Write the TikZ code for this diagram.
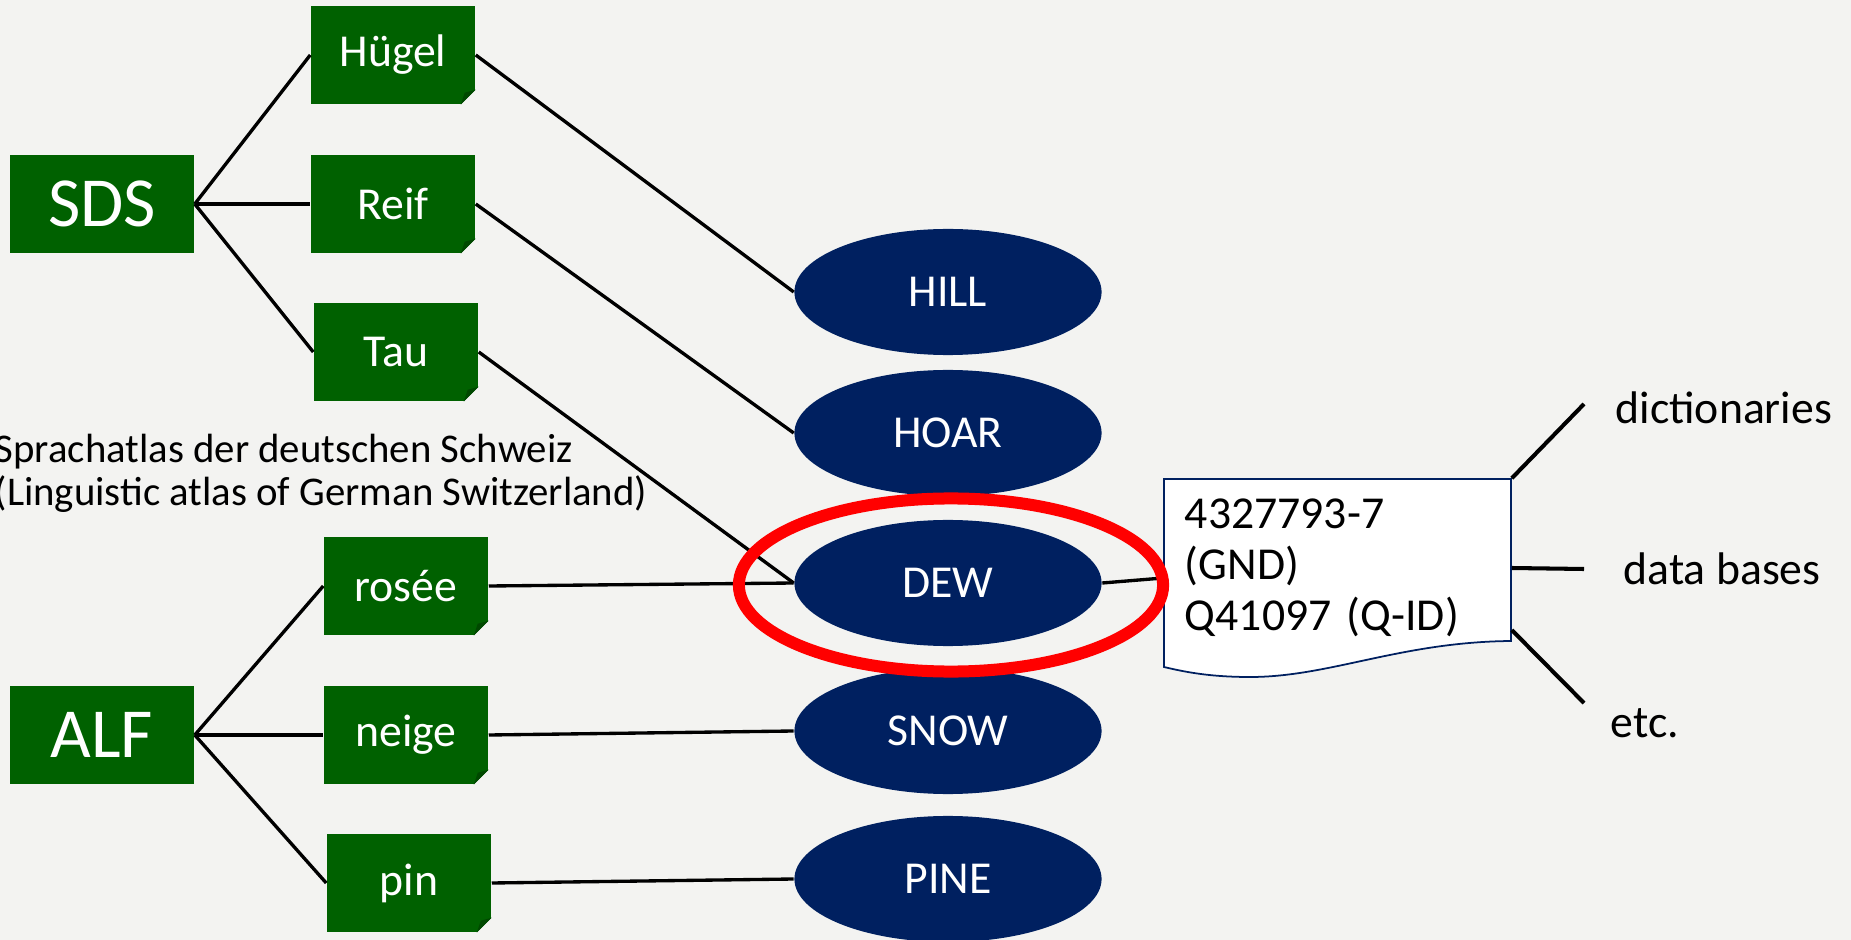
\documentclass[tikz,border=0pt]{standalone}
\usepackage{fontspec}
\setmainfont{Carlito}
\usetikzlibrary{shapes.geometric}
\definecolor{paper}{HTML}{F3F3F1}
\definecolor{atlasgreen}{HTML}{006100}
\definecolor{foldgreen}{HTML}{004800}
\definecolor{conceptblue}{HTML}{002060}

\begin{document}
\begin{tikzpicture}[x=0.01cm, y=-0.01cm,
    every node/.style={inner sep=0pt},
    atlas/.style={fill=atlasgreen, text=white, minimum width=1.84cm, minimum height=0.98cm, font=\fontsize{20}{24}\selectfont},
    lemma/.style={fill=atlasgreen, text=white, minimum width=1.64cm, minimum height=0.98cm, font=\fontsize{13}{15}\selectfont},
    concept/.style={ellipse, fill=conceptblue, text=white, minimum width=3.07cm, minimum height=1.26cm, font=\fontsize{13}{15}\selectfont},
    plain/.style={anchor=west, font=\fontsize{13}{15}\selectfont},
    link/.style={line width=0.95pt},
    reflink/.style={line width=1.15pt}]
      \useasboundingbox (0,0) rectangle (1851,940);
      \fill[paper] (0,0) rectangle (1851,940);
      \node[atlas] (sds) at (102,204) {SDS};
      \node[atlas] (alf) at (102,735) {ALF};
      \node[lemma] (huegel) at (393,55) {Hügel};
      \node[lemma] (reif) at (393,204) {Reif};
      \node[lemma] (tau) at (396,352) {Tau};
      \node[lemma] (rosee) at (406,586) {rosée};
      \node[lemma] (neige) at (406,735) {neige};
      \node[lemma] (pin) at (409,883) {pin};
      \foreach \n in {huegel,reif,tau,rosee,neige,pin}{
        \fill[paper] (\n.south east) -- ++(-15,0) -- ++(15,-15) -- cycle;
        \fill[foldgreen] (\n.south east) ++(-15,0) -- ++(15,-15) -- ++(-11,3) -- cycle;
      }
      \node[anchor=west, align=left, font=\fontsize{11.6}{12.2}\selectfont] (sdsname) at (-6,473) {Sprachatlas der deutschen Schweiz\\(Linguistic atlas of German Switzerland)};
      \node[concept] (hill) at (948,292) {HILL};
      \node[concept] (hoar) at (948,433) {HOAR};
      \node[concept] (dew) at (948,583) {DEW};
      \node[concept] (snow) at (948,731) {SNOW};
      \node[concept] (pine) at (948,879) {PINE};
      \draw[conceptblue, line width=0.5pt, fill=white] (1164,479) -- (1511,479) -- (1511,641) .. controls (1400,642) and (1330,677) .. (1250,677) .. controls (1210,677) and (1185,672) .. (1164,667) -- cycle;
      \node[text width=3.05cm, align=left, inner xsep=0.21cm, minimum height=1.78cm, font=\fontsize{13}{14.5}\selectfont] (gnd) at (1337.5,568) {4327793-7\\(GND)\\Q41097 (Q-ID)};
      \coordinate (dictend) at (1584,404);
      \coordinate (dbend) at (1584,569);
      \coordinate (etcend) at (1584,703);
      \node[plain] (dict) at (1615,408) {dictionaries};
      \node[plain] (db) at (1623,569) {data bases};
      \node[plain] (etc) at (1610,723) {etc.};
      \foreach \n in {huegel,reif,tau} \draw[link] (sds.east) -- (\n.west);
      \foreach \n in {rosee,neige,pin} \draw[link] (alf.east) -- (\n.west);
      \draw[link] (huegel.east) -- (hill.west);
      \draw[link] (reif.east) -- (hoar.west);
      \draw[link] (tau.east) -- (dew.west);
      \draw[link] (rosee.east) -- (dew.west);
      \draw[link] (neige.east) -- (snow.west);
      \draw[link] (pin.east) -- (pine.west);
      \draw[link] (dew.east) -- ([yshift=-0.1cm]gnd.west);
      \draw[reflink] (gnd.north east) -- (dictend);
      \draw[reflink] (gnd.east) -- (dbend);
      \draw[reflink] ([yshift=-0.62cm]gnd.east) -- (etcend);
      \draw[red, line width=0.12cm] ([xshift=0.03cm, yshift=-0.02cm]dew.center) ellipse [x radius=2.12cm, y radius=0.865cm];
    \end{tikzpicture}
\end{document}
